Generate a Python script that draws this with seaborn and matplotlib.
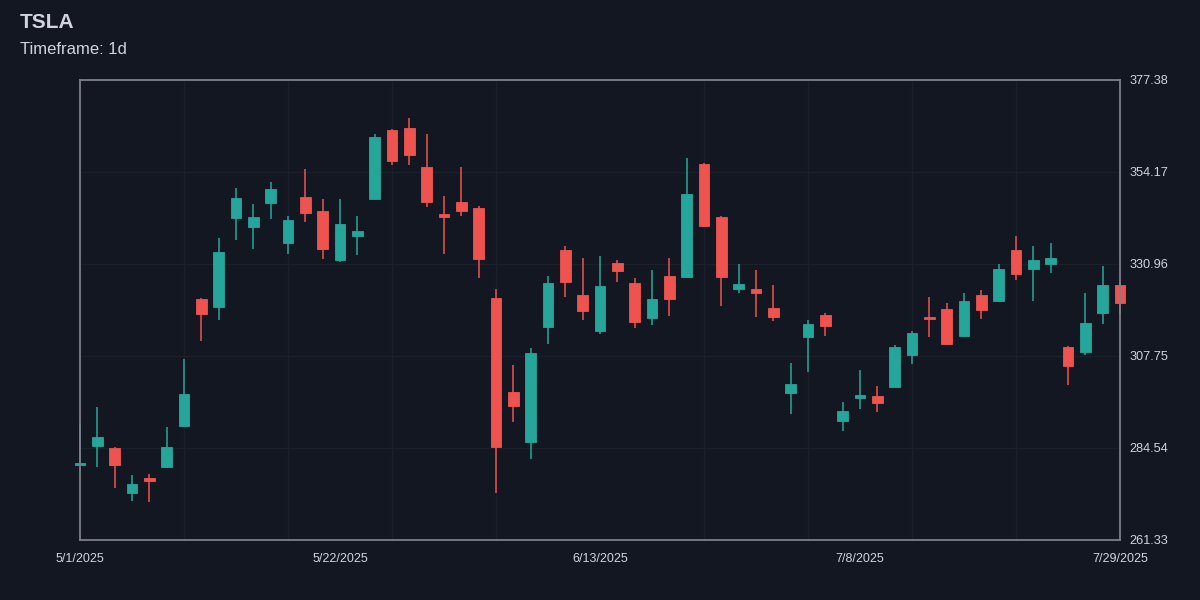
import numpy as np
import pandas as pd
import matplotlib
matplotlib.use("Agg")
import matplotlib.pyplot as plt
import seaborn as sns
from matplotlib.ticker import FixedLocator, MultipleLocator

# ---------------- data ----------------
dates = [
    "5/1/2025", "5/2/2025", "5/5/2025", "5/6/2025", "5/7/2025", "5/8/2025", "5/9/2025",
    "5/12/2025", "5/13/2025", "5/14/2025", "5/15/2025", "5/16/2025", "5/19/2025", "5/20/2025",
    "5/21/2025", "5/22/2025", "5/23/2025", "5/27/2025", "5/28/2025", "5/29/2025", "5/30/2025",
    "6/2/2025", "6/3/2025", "6/4/2025", "6/5/2025", "6/6/2025", "6/9/2025", "6/10/2025",
    "6/11/2025", "6/12/2025", "6/13/2025", "6/16/2025", "6/17/2025", "6/18/2025", "6/20/2025",
    "6/23/2025", "6/24/2025", "6/25/2025", "6/26/2025", "6/27/2025", "6/30/2025",
    "7/1/2025", "7/2/2025", "7/3/2025", "7/7/2025", "7/8/2025", "7/9/2025", "7/10/2025",
    "7/11/2025", "7/14/2025", "7/15/2025", "7/16/2025", "7/17/2025", "7/18/2025", "7/21/2025",
    "7/22/2025", "7/23/2025", "7/24/2025", "7/25/2025", "7/28/2025", "7/29/2025",
]
opens = [280.3, 284.97, 284.62, 273.11, 276.9, 279.67, 290.17, 322.06, 320.04, 342.57,
         340.37, 346.27, 336.33, 347.79, 344.41, 331.89, 338.02, 347.36, 364.84, 365.27,
         355.51, 343.5, 346.6, 345.09, 322.46, 298.74, 285.98, 314.99, 334.42, 323.06,
         314.06, 331.29, 326.09, 317.41, 327.93, 327.6, 356.19, 342.74, 324.65, 324.58,
         319.94, 298.49, 312.62, 318.02, 291.43, 297.08, 297.58, 300.01, 307.93, 317.67,
         319.68, 312.8, 323.14, 321.7, 334.42, 329.77, 330.96, 310.02, 308.84, 318.52, 325.59]
highs = [290.8, 294.8, 284.9, 277.73, 277.98, 289.84, 306.99, 322.31, 337.6, 350.06,
         346.1, 351.65, 342.99, 354.93, 347.36, 347.28, 343.15, 363.83, 365.02, 367.79,
         363.76, 348.04, 355.43, 345.59, 324.58, 305.48, 309.84, 327.93, 335.5, 332.55,
         332.98, 332.05, 327.35, 329.37, 332.4, 357.63, 356.4, 342.99, 331.04, 329.37,
         325.59, 305.91, 316.83, 318.52, 296.15, 304.14, 300.18, 310.53, 314.06, 322.64,
         321.2, 323.57, 324.4, 330.96, 338.02, 335.43, 336.26, 310.27, 323.64, 330.46, 326.34]
lows = [280.0, 279.82, 274.45, 271.25, 270.99, 279.42, 290.0, 311.53, 316.83, 337.02,
        334.74, 342.31, 333.41, 341.63, 332.22, 331.47, 333.31, 347.11, 355.94, 356.01,
        345.34, 333.41, 343.15, 327.35, 273.26, 291.18, 281.84, 310.7, 322.56, 316.83,
        313.38, 326.5, 314.74, 315.5, 317.84, 327.5, 340.3, 320.44, 323.64, 317.51,
        316.58, 293.19, 303.79, 312.8, 288.83, 294.46, 293.55, 299.93, 305.73, 312.62,
        310.6, 312.62, 317.09, 321.45, 326.92, 321.63, 328.69, 300.43, 308.08, 315.75, 318.27]
closes = [280.5, 287.24, 280.33, 275.38, 276.29, 284.79, 298.24, 318.42, 334.06, 347.69,
          342.82, 349.96, 342.06, 343.9, 334.67, 341.05, 339.29, 362.92, 356.95, 358.53,
          346.53, 342.74, 344.41, 332.15, 284.79, 295.21, 308.58, 326.09, 326.5, 319.18,
          325.33, 329.19, 316.4, 322.06, 322.21, 348.62, 340.55, 327.68, 325.84, 323.72,
          317.67, 300.69, 315.75, 315.39, 293.95, 297.84, 295.97, 309.95, 313.55, 317.01,
          310.85, 321.63, 319.43, 329.62, 328.51, 332.04, 332.55, 305.3, 316.08, 325.59, 321.2]

x_tick_labels = ["5/1/2025", "5/22/2025", "6/13/2025", "7/8/2025", "7/29/2025"]
y_ticks = [261.33, 284.54, 307.75, 330.96, 354.17, 377.38]
title = "TSLA"
subtitle = "Timeframe: 1d"

# ---------------- style ----------------
BG = "#131722"
GRID = "#1c202b"
SPINE = "#7d808a"
TEXT = "#d1d4dc"
UP = "#26a69a"
DOWN = "#ef5350"

sns.set_theme(style="dark", rc={
    "figure.facecolor": BG,
    "axes.facecolor": BG,
    "savefig.facecolor": BG,
})
plt.rcParams["font.family"] = ["Liberation Sans", "DejaVu Sans"]

df = pd.DataFrame({"date": dates, "open": opens, "high": highs,
                   "low": lows, "close": closes})
df["pos"] = np.arange(len(df))
df["up"] = df["close"] >= df["open"]
df["color"] = np.where(df["up"], UP, DOWN)
df["body_lo"] = df[["open", "close"]].min(axis=1)
df["body_h"] = (df["open"] - df["close"]).abs().clip(lower=0.35)

fig = plt.figure(figsize=(12, 6), dpi=100)
ax = fig.add_axes([80 / 1200, 60 / 600, 1040 / 1200, 460 / 600])
ax.set_facecolor(BG)

# wicks
ax.vlines(df["pos"], df["low"], df["high"], colors=df["color"],
          linewidth=1.1, zorder=2, clip_on=False)
# bodies
ax.bar(df["pos"], df["body_h"], bottom=df["body_lo"], width=0.62,
       color=df["color"], edgecolor=df["color"], linewidth=0.6,
       zorder=3, clip_on=False)

ax.set_xlim(0, len(df) - 1)
ax.set_ylim(y_ticks[0], y_ticks[-1])

# x ticks: labels at 0,15,30,45,60 ; grid every 6 bars
label_pos = [df.index[df["date"] == d][0] for d in x_tick_labels]
ax.xaxis.set_major_locator(FixedLocator(label_pos))
ax.set_xticklabels(x_tick_labels)
ax.xaxis.set_minor_locator(MultipleLocator(6))
ax.tick_params(axis="x", which="both", length=0, pad=9, labelsize=9, colors=TEXT)
ax.grid(False)
ax.grid(True, axis="x", which="minor", color=GRID, linewidth=1)

# y ticks on right
ax.yaxis.tick_right()
ax.set_yticks(y_ticks)
ax.set_yticklabels([f"{v:.2f}" for v in y_ticks])
ax.tick_params(axis="y", length=0, pad=7, labelsize=9.2, colors=TEXT)
ax.grid(True, axis="y", which="major", color=GRID, linewidth=1)
for lbl in ax.get_yticklabels():
    lbl.set_horizontalalignment("left")

for s in ax.spines.values():
    s.set_visible(True)
    s.set_color(SPINE)
    s.set_linewidth(1.3)
    s.set_zorder(5)

ax.set_xlabel("")
ax.set_ylabel("")

fig.text(20 / 1200, 1 - 22 / 600, title, fontsize=15, fontweight="bold",
         color=TEXT, ha="left", va="center")
fig.text(20 / 1200, 1 - 49 / 600, subtitle, fontsize=12,
         color=TEXT, ha="left", va="center")

fig.savefig("out.png", dpi=100, facecolor=BG)
